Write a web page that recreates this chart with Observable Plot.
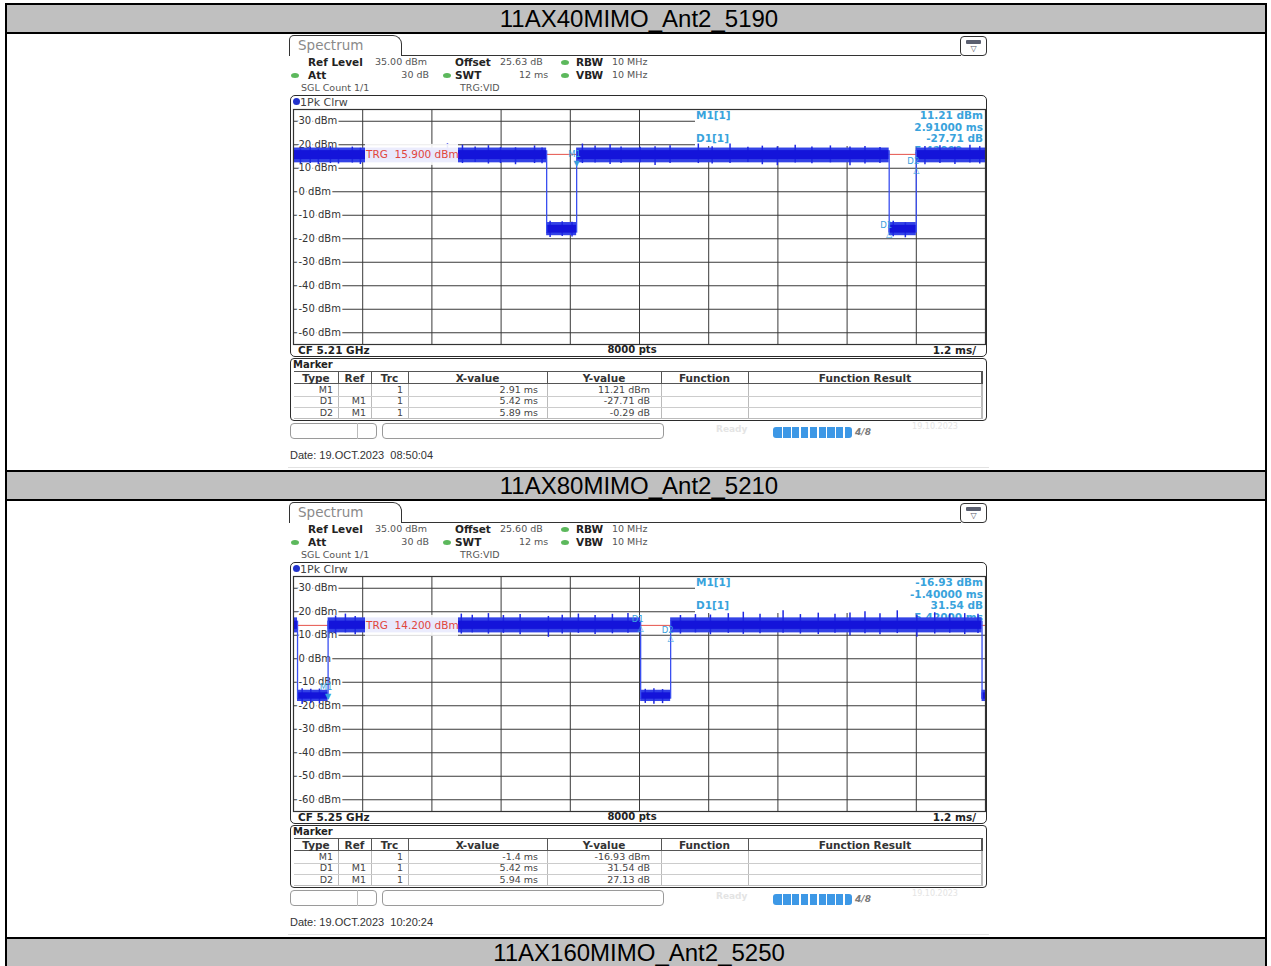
<!DOCTYPE html>
<html><head><meta charset="utf-8">
<script src="https://cdn.jsdelivr.net/npm/d3@7"></script>
<script src="https://cdn.jsdelivr.net/npm/@observablehq/plot@0.6"></script>
<style>
body{margin:0;background:#fff;}
#page{position:relative;width:1271px;height:966px;overflow:hidden;font-family:"DejaVu Sans",sans-serif;}
</style></head>
<body><div id="page"></div>
<script>
// ---------- data ----------
const rowTitles = ["11AX40MIMO_Ant2_5190", "11AX80MIMO_Ant2_5210", "11AX160MIMO_Ant2_5250"];
const yTicks = [30, 20, 10, 0, -10, -20, -30, -40, -50, -60];
const xGrid = [-0.8, 0.4, 1.6, 2.8, 4.0, 5.2, 6.4, 7.6, 8.8];
const xDomain = [-2, 10];      // ms, 1.2 ms/div
const yDomain = [-65, 35];     // dBm, ref level 35 dBm

const offsets = ["25.63 dB", "25.60 dB"];
const centerFreqs = ["CF 5.21 GHz", "CF 5.25 GHz"];
const dates = ["Date: 19.OCT.2023  08:50:04", "Date: 19.OCT.2023  10:20:24"];
const trgLevels = [15.9, 14.2];

// marker table: M1 absolute, D1/D2 relative to M1
const p1MarkerX = [2.91, 5.42, 5.89];
const p1MarkerY = [11.21, -27.71, -0.29];
const p2MarkerX = [-1.4, 5.42, 5.94];
const p2MarkerY = [-16.93, 31.54, 27.13];

// trace segments: [start ms, end ms, envelope low, envelope high, core low, core high] (dBm)
const p1Segments = [
  [-2.00, 2.39, 12.3, 18.6, 13.7, 17.5],
  [2.39, 2.91, -18.7, -13.1, -17.6, -14.3],
  [2.91, 8.33, 12.3, 18.6, 13.7, 17.5],
  [8.33, 8.80, -18.7, -13.1, -17.6, -14.3],
  [8.80, 10.00, 12.3, 18.6, 13.7, 17.5]
];
const p2Segments = [
  [-2.00, -1.93, 11.0, 17.4, 12.5, 16.0],
  [-1.93, -1.40, -18.2, -13.4, -17.2, -14.5],
  [-1.40, 4.02, 11.0, 17.4, 12.5, 16.0],
  [4.02, 4.54, -18.2, -13.4, -17.2, -14.5],
  [4.54, 9.94, 11.0, 17.4, 12.5, 16.0],
  [9.94, 10.00, -18.2, -13.4, -17.2, -14.5]
];
// visible peaks of the noisy trace: [ms, low dBm, high dBm]
const p1Spikes = [
  [-1.88, 11.8, 18.2], [-1.71, 12.0, 19.0], [-1.57, 11.5, 18.0], [-1.36, 12.0, 19.2], [-1.22, 11.8, 18.0],
  [-0.98, 12.2, 19.0], [-0.84, 11.6, 18.5], [0.67, 14.0, 20.4], [0.93, 12.0, 19.8], [1.15, 12.5, 19.0],
  [1.38, 11.8, 19.6], [1.59, 12.0, 18.8], [1.85, 11.5, 18.7], [2.18, 12.0, 19.5], [2.31, 11.9, 18.6],
  [3.01, 12.0, 20.3], [3.23, 12.2, 19.5], [3.49, 11.6, 20.0], [3.68, 12.0, 19.0], [4.01, 12.3, 18.9],
  [4.27, 11.2, 19.2], [4.53, 12.0, 19.6], [5.02, 12.0, 20.3], [5.26, 11.8, 19.2], [5.57, 12.0, 20.3],
  [5.88, 12.4, 18.9], [6.13, 11.5, 19.4], [6.39, 11.1, 19.1], [6.70, 12.2, 19.8], [6.99, 11.9, 19.0],
  [7.31, 12.3, 19.5], [7.65, 11.1, 19.0], [7.91, 11.8, 19.3], [8.17, 12.0, 18.8], [8.95, 11.5, 19.3],
  [9.21, 12.0, 19.6], [9.47, 11.6, 19.0], [9.73, 12.2, 19.8], [9.90, 11.8, 19.2],
  [2.45, -19.5, -12.5], [2.66, -19.0, -12.8], [2.83, -19.3, -13.0], [8.40, -19.2, -12.6], [8.61, -19.6, -13.2]
];
const p2Spikes = [
  [-1.27, 10.5, 18.2], [-1.10, 11.0, 19.0], [-0.93, 10.2, 18.0], [0.91, 10.5, 19.0], [1.10, 11.0, 18.5],
  [1.38, 10.5, 19.2], [1.64, 10.8, 18.4], [1.93, 10.2, 18.8], [2.42, 9.1, 18.0], [2.66, 10.5, 18.5],
  [2.94, 10.8, 19.0], [3.23, 10.3, 18.4], [3.53, 10.6, 18.9], [3.80, 10.9, 19.3], [4.71, 10.5, 18.4],
  [4.97, 11.0, 18.8], [5.23, 10.2, 18.6], [5.54, 10.8, 19.2], [5.80, 10.4, 19.8], [6.09, 10.6, 18.9],
  [6.49, 10.9, 20.4], [6.79, 10.5, 18.8], [7.10, 10.3, 19.4], [7.39, 10.8, 18.9], [7.65, 9.8, 19.5],
  [7.91, 10.6, 20.0], [8.17, 10.2, 19.2], [8.47, 10.7, 20.4], [8.81, 9.1, 18.5], [9.12, 10.5, 19.6],
  [9.38, 10.9, 19.0], [9.64, 10.3, 19.2], [9.87, 10.7, 18.9],
  [-1.85, -19.5, -12.8], [-1.70, -19.0, -13.0], [-1.55, -19.3, -12.9], [4.10, -19.0, -13.0], [4.25, -19.4, -12.8], [4.40, -19.1, -13.1]
];

// ---------- helpers ----------
const page = document.getElementById("page");
function box(x, y, w, h, style) {
  const d = document.createElement("div");
  d.style.cssText = `position:absolute;left:${x}px;top:${y}px;width:${w}px;height:${h}px;box-sizing:border-box;${style || ""}`;
  page.appendChild(d); return d;
}
function txt(x, y, s, style, anchor) {
  const d = document.createElement("div");
  d.textContent = s;
  const tx = anchor === "end" ? "-100%" : anchor === "middle" ? "-50%" : "0";
  d.style.cssText = `position:absolute;left:${x}px;top:${y}px;transform:translate(${tx},-50%);white-space:pre;line-height:1;font-family:"DejaVu Sans",sans-serif;font-size:9.5px;color:#333;${style || ""}`;
  page.appendChild(d); return d;
}
const fmtX = v => `${v} ms`;

// ---------- table ----------
const headerRows = [5, 472, 939];
box(5, 3, 1262, 2, "background:#000");
headerRows.forEach((y, i) => {
  box(5, y, 1262, 27, "background:#c0c0c0");
  if (i > 0) box(5, y - 2, 1262, 2, "background:#000");
  box(5, y + 27, 1262, 2, "background:#000");
  txt(639, y + 14, rowTitles[i], "font-family:'Liberation Sans',Arial,sans-serif;font-size:24px;color:#000", "middle");
});
box(5, 3, 2, 963, "background:#000");
box(1265, 3, 2, 963, "background:#000");

// ---------- spectrum plot ----------
function spectrumPlot(segs, spikes, trg, mx, my) {
  const trans = [];
  for (let i = 1; i < segs.length; i++) {
    const a = segs[i - 1], b = segs[i];
    trans.push({t: b[0], y1: Math.min(a[4], b[4]), y2: Math.max(a[5], b[5])});
  }
  const markers = [
    {name: "M1", t: mx[0], v: my[0], delta: false},
    {name: "D1", t: mx[0] + mx[1], v: my[0] + my[1], delta: true},
    {name: "D2", t: mx[0] + mx[2], v: my[0] + my[2], delta: true}
  ];
  const infoLeft = ["M1[1]", "", "D1[1]"];
  const infoRight = [`${my[0].toFixed(2)} dBm`, `${mx[0].toFixed(5)} ms`, `${my[1].toFixed(2)} dB`, `${mx[1].toFixed(5)} ms`];
  const infoMark = (index, scales, values, dims) => {
    const g = d3.create("svg:g").attr("font-size", 10.5).attr("font-weight", "bold").attr("fill", "#39a3dc")
      .attr("font-family", "DejaVu Sans").attr("text-anchor", "start");
    g.append("rect").attr("x", 402).attr("y", 0).attr("width", dims.width - 402).attr("height", 37).attr("fill", "#fff");
    infoLeft.forEach((s, i) => { if (s) g.append("text").attr("x", 403).attr("y", 10 + i * 11.7).text(s); });
    infoRight.forEach((s, i) => g.append("text").attr("x", dims.width - 2).attr("y", 10 + i * 11.5).attr("text-anchor", "end").text(s));
    return g.node();
  };
  const trgLabel = (index, scales) => {
    const y = scales.y(trg);
    const g = d3.create("svg:g");
    g.append("rect").attr("x", 72).attr("y", y - 10).attr("width", 93).attr("height", 21).attr("fill", "#fff").attr("fill-opacity", 0.9);
    g.append("text").attr("x", 73).attr("y", y + 3.8).attr("fill", "#e0463d").attr("font-size", 10.5)
      .attr("text-anchor", "start").attr("font-family", "DejaVu Sans").attr("xml:space", "preserve")
      .text(`TRG  ${trg.toFixed(3)} dBm`);
    return g.node();
  };
  const isM = d => !d.delta, isD = d => d.delta;
  return Plot.plot({
    width: 692, height: 235, margin: 0,
    x: {domain: xDomain, axis: null},
    y: {domain: yDomain, axis: null},
    style: {fontFamily: "DejaVu Sans", fontSize: "10px", background: "transparent", overflow: "visible"},
    marks: [
      Plot.ruleX(xGrid, {stroke: "#3a3a3a", strokeWidth: 1}),
      Plot.ruleY(yTicks, {stroke: "#3a3a3a", strokeWidth: 1}),
      Plot.text(yTicks, {x: () => xDomain[0], y: d => d, text: d => `${d} dBm`, textAnchor: "start", dx: 5,
        fill: "#333", stroke: "#fff", strokeWidth: 4, fontSize: 10}),
      infoMark,
      Plot.ruleY([trg], {stroke: "#e5534b", strokeWidth: 1}),
      Plot.rect(segs, {x1: d => d[0], x2: d => d[1], y1: d => d[2], y2: d => d[3], fill: "#3342e6"}),
      Plot.ruleX(spikes, {x: d => d[0], y1: d => d[1], y2: d => d[2], stroke: "#1e28e2", strokeWidth: 1.5}),
      Plot.rect(segs, {x1: d => d[0], x2: d => d[1], y1: d => d[4], y2: d => d[5], fill: "#1414da"}),
      Plot.ruleX(trans, {x: "t", y1: "y1", y2: "y2", stroke: "#3a4ff0", strokeWidth: 1.3}),
      trgLabel,
      Plot.text(markers, {filter: isM, x: "t", y: "v", text: () => "▼", fill: "#3aa0dc", fontSize: 8, dy: -2}),
      Plot.text(markers, {filter: isD, x: "t", y: "v", text: () => "△", fill: "#3aa0dc", fontSize: 8, dy: 4}),
      Plot.text(markers, {filter: isM, x: "t", y: "v", text: "name", fill: "#3aa0dc", fontSize: 8.5, dx: -2, dy: -11}),
      Plot.text(markers, {filter: isD, x: "t", y: "v", text: "name", fill: "#3aa0dc", fontSize: 8.5, dx: -3, dy: -5}),
      Plot.frame({stroke: "#333", strokeWidth: 1.2})
    ]
  });
}

// ---------- panel ----------
function panel(k, oy, segs, spikes, mx, my) {
  // tab + top line + icon
  box(289, 35 + oy, 113, 21, "border:1.5px solid #333;border-bottom:none;border-radius:5px 9px 0 0;background:#fff");
  txt(298, 46 + oy, "Spectrum", "font-size:13.5px;color:#8a8a8a");
  box(401, 54.5 + oy, 560, 1.5, "background:#333");
  box(960, 36 + oy, 27, 20, "border:1.5px solid #333;border-radius:4px;background:#fff");
  box(966, 40 + oy, 15, 4, "background:#5a5f70;border-radius:1px");
  txt(973.5, 49 + oy, "▽", "font-size:8px;color:#556", "middle");
  // settings
  const B = "font-weight:bold;color:#222;font-size:10.5px";
  const V = "color:#555;font-size:9.5px";
  const dot = (cx, cy) => box(cx - 4, cy - 2.5, 8, 5, "background:#5cb85c;border-radius:50%");
  txt(308, 62 + oy, "Ref Level", B); txt(375, 62 + oy, "35.00 dBm", V);
  txt(455, 62 + oy, "Offset", B); txt(500, 62 + oy, offsets[k], V);
  dot(565, 62 + oy); txt(576, 62 + oy, "RBW", B); txt(612, 62 + oy, "10 MHz", V);
  dot(295, 75 + oy); txt(308, 75 + oy, "Att", B); txt(429, 75 + oy, "30 dB", V, "end");
  dot(447, 75 + oy); txt(455, 75 + oy, "SWT", B); txt(519, 75 + oy, "12 ms", V);
  dot(565, 75 + oy); txt(576, 75 + oy, "VBW", B); txt(612, 75 + oy, "10 MHz", V);
  txt(301, 88 + oy, "SGL Count 1/1", V); txt(460, 88 + oy, "TRG:VID", V);
  // trace window
  box(290, 95 + oy, 697, 262, "border:1.5px solid #2b2b2b;border-radius:5px");
  box(293, 98 + oy, 7, 7, "background:#2233cc;border-radius:50%");
  txt(300, 101.5 + oy, "1Pk Clrw", "font-size:11px;color:#444");
  const holder = box(293, 109 + oy, 692, 235, "");
  holder.appendChild(spectrumPlot(segs, spikes, trgLevels[k], mx, my));
  txt(298, 350 + oy, centerFreqs[k], "font-weight:bold;color:#222;font-size:10.5px");
  txt(632, 350 + oy, "8000 pts", "font-weight:bold;color:#222;font-size:10px", "middle");
  txt(976, 350 + oy, "1.2 ms/", "font-weight:bold;color:#222;font-size:10.5px", "end");
  // marker table
  box(290, 358 + oy, 697, 63, "border:1.5px solid #2b2b2b;border-radius:4px");
  txt(293, 364.5 + oy, "Marker", "font-weight:bold;color:#222;font-size:10px");
  const cols = [294, 338, 371, 408, 547, 661, 748, 982];
  const heads = ["Type", "Ref", "Trc", "X-value", "Y-value", "Function", "Function Result"];
  box(294, 371 + oy, 688, 13, "border:1px solid #555;border-left:none");
  box(294, 384 + oy, 688, 35, "border:1px solid #bbb;border-top:none;border-left:none");
  cols.slice(1).forEach(c => { box(c, 371 + oy, 1, 13, "background:#555"); box(c, 384 + oy, 1, 35, "background:#bbb"); });
  heads.forEach((h, i) => txt((cols[i] + cols[i + 1]) / 2, 378 + oy, h, "font-weight:bold;color:#333;font-size:10.5px", "middle"));
  [395.5, 407].forEach(y => box(294, y + oy, 688, 1, "background:#ccc"));
  const rows = [
    ["M1", "", "1", fmtX(mx[0]), `${my[0].toFixed(2)} dBm`],
    ["D1", "M1", "1", fmtX(mx[1]), `${my[1].toFixed(2)} dB`],
    ["D2", "M1", "1", fmtX(mx[2]), `${my[2].toFixed(2)} dB`]
  ];
  const pads = [5, 5, 5, 9, 11];
  rows.forEach((r, i) => {
    const y = 389.7 + i * 11.5 + oy;
    r.forEach((s, j) => { if (s) txt(cols[j + 1] - pads[j], y, s, "color:#444;font-size:9.5px", "end"); });
  });
  // status bar
  box(290, 423 + oy, 87, 16, "border:1px solid #9a9a9a;border-radius:4px;background:#fff");
  box(357, 423 + oy, 1, 16, "background:#bbb");
  box(382, 423 + oy, 282, 16, "border:1px solid #9a9a9a;border-radius:4px;background:#fff");
  txt(716, 429 + oy, "Ready", "color:#e4e4e4;font-weight:bold;font-size:9px");
  box(773, 427 + oy, 79, 11, "background:#3d98e6;border-radius:3px");
  for (let i = 1; i < 9; i++) box(773 + i * 8.8, 427 + oy, 1.5, 11, "background:#fff");
  txt(863, 432 + oy, "4/8", "color:#7a7a7a;font-style:italic;font-weight:bold;font-size:9px", "middle");
  txt(935, 427 + oy, "19.10.2023", "color:#e4e4e4;font-size:8px", "middle");
  txt(290, 455 + oy, dates[k], "font-family:'Liberation Sans',Arial,sans-serif;font-size:11px;color:#333");
  box(288, 467 + oy, 701, 1, "background:#e2e2e2");
}

panel(0, 0, p1Segments, p1Spikes, p1MarkerX, p1MarkerY);
panel(1, 467, p2Segments, p2Spikes, p2MarkerX, p2MarkerY);
</script>
</body></html>
